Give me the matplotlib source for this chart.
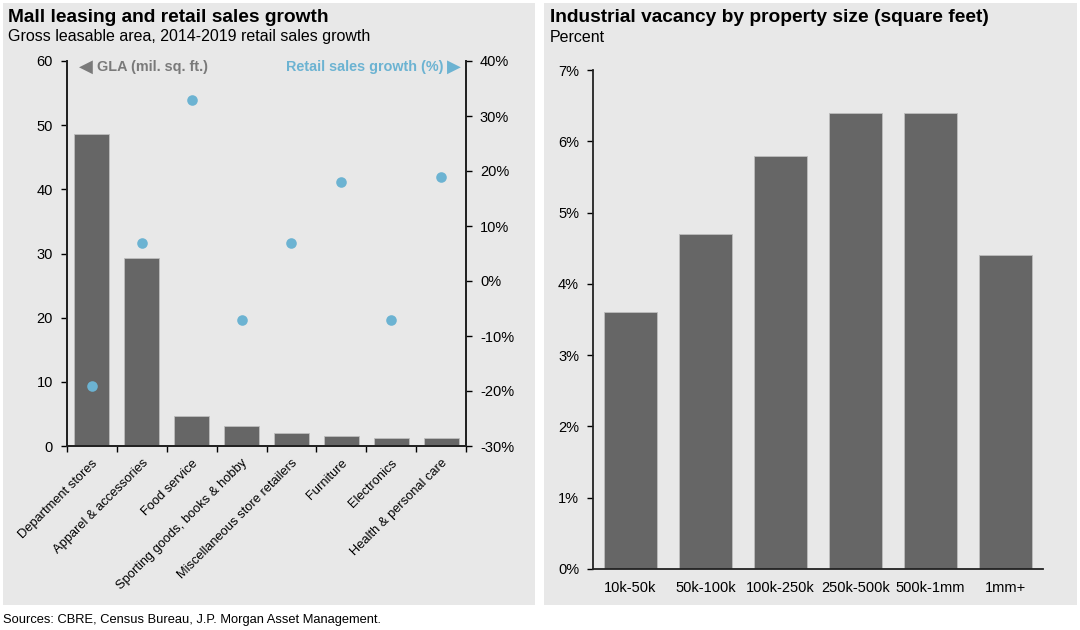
import matplotlib
matplotlib.use("Agg")
import matplotlib.pyplot as plt
from matplotlib.patches import Rectangle
import numpy as np

plt.rcParams['font.family'] = ['Liberation Sans', 'DejaVu Sans']
plt.rcParams['axes.unicode_minus'] = False

# ---- data ----
categories = ["Department stores", "Apparel & accessories", "Food service",
              "Sporting goods, books & hobby", "Miscellaneous store retailers",
              "Furniture", "Electronics", "Health & personal care"]
gla = [48.7, 29.3, 4.6, 3.1, 2.0, 1.6, 1.3, 1.2]
sales_growth = [-19, 7, 33, -7, 7, 18, -7, 19]
gla_ticks = [0, 10, 20, 30, 40, 50, 60]
growth_ticks = [-30, -20, -10, 0, 10, 20, 30, 40]

sizes = ["10k-50k", "50k-100k", "100k-250k", "250k-500k", "500k-1mm", "1mm+"]
vacancy = [3.6, 4.7, 5.8, 6.4, 6.4, 4.4]
vac_ticks = [0, 1, 2, 3, 4, 5, 6, 7]

BAR = "#666666"
DOT = "#6cb3d2"
PANEL = "#e8e8e8"
GLA_C = "#7a7a7a"

fig = plt.figure(figsize=(10.8, 6.3), dpi=100)
fig.patch.set_facecolor("white")

W, H = 1080, 630
def fx(px): return px / W
def fy(py): return 1 - py / H

# panels
fig.add_artist(Rectangle((fx(3), fy(605)), fx(535) - fx(3), fy(3) - fy(605),
                         transform=fig.transFigure, facecolor=PANEL, edgecolor="none", zorder=0))
fig.add_artist(Rectangle((fx(544), fy(605)), fx(1077) - fx(544), fy(3) - fy(605),
                         transform=fig.transFigure, facecolor=PANEL, edgecolor="none", zorder=0))

# ---- left chart ----
ax = fig.add_axes([fx(67), fy(446), fx(466) - fx(67), fy(61) - fy(446)])
ax.set_facecolor("none")
x = np.arange(len(categories))
ax.bar(x, gla, width=0.7, color=BAR, edgecolor="#bdbdbd", linewidth=0.6, zorder=2)
ax.set_xlim(-0.5, len(categories) - 0.5)
ax.set_ylim(0, 60)
ax.set_yticks(gla_ticks)
ax.set_yticklabels([str(t) for t in gla_ticks], fontsize=10.5)
ax.set_xticks(np.arange(len(categories) + 1) - 0.5)
ax.set_xticklabels([])
ax.set_xticks(x, minor=True)
ax.set_xticklabels(categories, minor=True, rotation=45, ha="right",
                   rotation_mode="anchor", fontsize=9.3)
ax.tick_params(axis="x", which="minor", length=0, pad=8)
ax.tick_params(axis="x", which="major", length=4, width=1, direction="out")
ax.tick_params(axis="y", length=4, width=1, direction="out", pad=6)
ax.spines["top"].set_visible(False)
for s in ["left", "right", "bottom"]:
    ax.spines[s].set_linewidth(1.3)
    ax.spines[s].set_color("#222222")

ax2 = ax.twinx()
ax2.scatter(x, sales_growth, s=58, color=DOT, zorder=3, linewidths=0)
ax2.set_ylim(-30, 40)
ax2.set_yticks(growth_ticks)
ax2.set_yticklabels([f"{t}%" for t in growth_ticks], fontsize=10.5)
ax2.tick_params(axis="y", length=4, width=1, direction="out", pad=6)
ax2.spines["top"].set_visible(False)
for s in ["left", "right", "bottom"]:
    ax2.spines[s].set_linewidth(1.3)
    ax2.spines[s].set_color("#222222")

# legend-style annotations
fig.text(fx(79), fy(67), "◀", fontsize=13, color=GLA_C, ha="left", va="center",
         family=['DejaVu Sans'])
fig.text(fx(97), fy(67), "GLA (mil. sq. ft.)", fontsize=10.4, fontweight="bold",
         color=GLA_C, ha="left", va="center")
fig.text(fx(461), fy(67), "▶", fontsize=13, color=DOT, ha="right", va="center",
         family=['DejaVu Sans'])
fig.text(fx(443), fy(67), "Retail sales growth (%)", fontsize=10.4, fontweight="bold",
         color=DOT, ha="right", va="center")

fig.text(fx(8), fy(17), "Mall leasing and retail sales growth", fontsize=13.8, fontweight="bold",
         ha="left", va="center")
fig.text(fx(8), fy(37), "Gross leasable area, 2014-2019 retail sales growth", fontsize=11.5,
         ha="left", va="center")

# ---- right chart ----
bx = fig.add_axes([fx(593), fy(569), fx(1043) - fx(593), fy(70) - fy(569)])
bx.set_facecolor("none")
xs = np.arange(len(sizes))
bx.bar(xs, vacancy, width=0.7, color=BAR, edgecolor="#bdbdbd", linewidth=0.6, zorder=2)
bx.set_xlim(-0.5, len(sizes) - 0.5)
bx.set_ylim(0, 7)
bx.set_yticks(vac_ticks)
bx.set_yticklabels([f"{t}%" for t in vac_ticks], fontsize=10.5)
bx.set_xticks(xs)
bx.set_xticklabels(sizes, fontsize=10.5)
bx.tick_params(axis="x", length=0, pad=9)
bx.tick_params(axis="y", length=4, width=1, direction="out", pad=6)
bx.spines["top"].set_visible(False)
bx.spines["right"].set_visible(False)
for s in ["left", "bottom"]:
    bx.spines[s].set_linewidth(1.3)
    bx.spines[s].set_color("#222222")

fig.text(fx(550), fy(17), "Industrial vacancy by property size (square feet)", fontsize=13.8,
         fontweight="bold", ha="left", va="center")
fig.text(fx(550), fy(37), "Percent", fontsize=11.5, ha="left", va="center")

fig.text(fx(3), fy(620), "Sources: CBRE, Census Bureau, J.P. Morgan Asset Management.",
         fontsize=9.3, ha="left", va="center")

fig.savefig("out.png", dpi=100, facecolor="white")
